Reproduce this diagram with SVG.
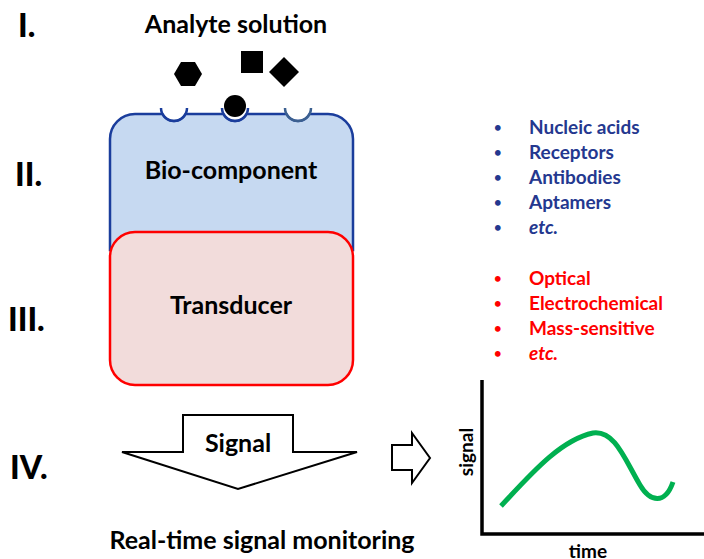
<svg xmlns="http://www.w3.org/2000/svg" width="704" height="559" viewBox="0 0 704 559">
<style>
text{font-family:Lato,"Open Sans","Liberation Sans",sans-serif;font-weight:bold;fill:#000}
.num{font-size:32px;font-weight:900}
.lbl{font-size:25px}
.li{font-size:19px}
.bul{font-size:13px}
.blue{fill:#24388f}
.red{fill:#ff0000}
.it{font-style:italic}
.arrow{fill:#fff;stroke:#000;stroke-width:2;stroke-linejoin:miter}
</style>
<rect width="704" height="559" fill="#fff"/>
<g id="numerals">
<text class="num" x="18" y="37">I.</text>
<text class="num" x="15" y="186">II.</text>
<text class="num" x="8" y="331">III.</text>
<text class="num" x="10" y="479">IV.</text>
</g>
<g id="analyte">
<text class="lbl" x="236" y="33" text-anchor="middle">Analyte solution</text>
<polygon points="202,74 195,62 181,62 174,74 181,86 195,86" fill="#000"/>
<rect x="241" y="51" width="22" height="22" fill="#000"/>
<polygon points="284,57 299,72 284,87 269,72" fill="#000"/>
</g>
<g id="bio-component">
<path d="M110,250 V139 A25,25 0 0 1 135,114 H162.5 A13,13 0 0 0 185.5,114 H223.5 A13,13 0 0 0 246.5,114 H286.5 A13,13 0 0 0 309.5,114 H328 A25,25 0 0 1 353,139 V250 Z" fill="#c6d9f1" stroke="#1a3d9c" stroke-width="2.5"/>
<path d="M161,108 A13,13 0 0 0 187,108" fill="none" stroke="#1a3d9c" stroke-width="2.5"/>
<path d="M222,108 A13,13 0 0 0 248,108" fill="none" stroke="#1a3d9c" stroke-width="2.5"/>
<path d="M285,108 A13,13 0 0 0 311,108" fill="none" stroke="#3c6090" stroke-width="2.5"/>
<circle cx="235" cy="106" r="11" fill="#000"/>
<text class="lbl" x="231" y="179" text-anchor="middle">Bio-component</text>
</g>
<g id="transducer">
<rect x="110" y="232" width="243" height="153" rx="25" ry="25" fill="#f2dcdb" stroke="#ff0000" stroke-width="2.5"/>
<text class="lbl" x="231" y="314" text-anchor="middle">Transducer</text>
</g>
<g id="bio-list">
<text class="bul blue" x="494" y="132">•</text><text class="li blue" x="529" y="134">Nucleic acids</text>
<text class="bul blue" x="494" y="157">•</text><text class="li blue" x="529" y="159">Receptors</text>
<text class="bul blue" x="494" y="182">•</text><text class="li blue" x="529" y="184">Antibodies</text>
<text class="bul blue" x="494" y="207">•</text><text class="li blue" x="529" y="209">Aptamers</text>
<text class="bul blue" x="494" y="232">•</text><text class="li blue it" x="529" y="234">etc.</text>
</g>
<g id="transducer-list">
<text class="bul red" x="494" y="283">•</text><text class="li red" x="529" y="285">Optical</text>
<text class="bul red" x="494" y="308">•</text><text class="li red" x="529" y="310">Electrochemical</text>
<text class="bul red" x="494" y="333">•</text><text class="li red" x="529" y="335">Mass-sensitive</text>
<text class="bul red" x="494" y="358">•</text><text class="li red it" x="529" y="360">etc.</text>
</g>
<g id="connectors">
<polygon class="arrow" points="183,415 293,415 293,452 357,452 238,489 122,452 183,452"/>
<polygon class="arrow" points="392,445 412,445 412,433 430,458 412,483 412,470 392,470"/>
</g>
<g id="signal-arrow-label">
<text class="lbl" x="238" y="452" text-anchor="middle">Signal</text>
</g>
<g id="monitoring">
<text class="lbl" x="262" y="549" text-anchor="middle">Real-time signal monitoring</text>
</g>
<g id="chart">
<path d="M482,380 V534 H704" fill="none" stroke="#000" stroke-width="3.5"/>
<path d="M501,506 C530,475 560,440 593,433 C615,430 625,460 640,485 C650,502 665,505 673,482" fill="none" stroke="#00b050" stroke-width="5" stroke-linecap="butt"/>
<text font-size="19" transform="translate(473,452) rotate(-90)" text-anchor="middle">signal</text>
<text font-size="19" x="588" y="558" text-anchor="middle">time</text>
</g>
</svg>
